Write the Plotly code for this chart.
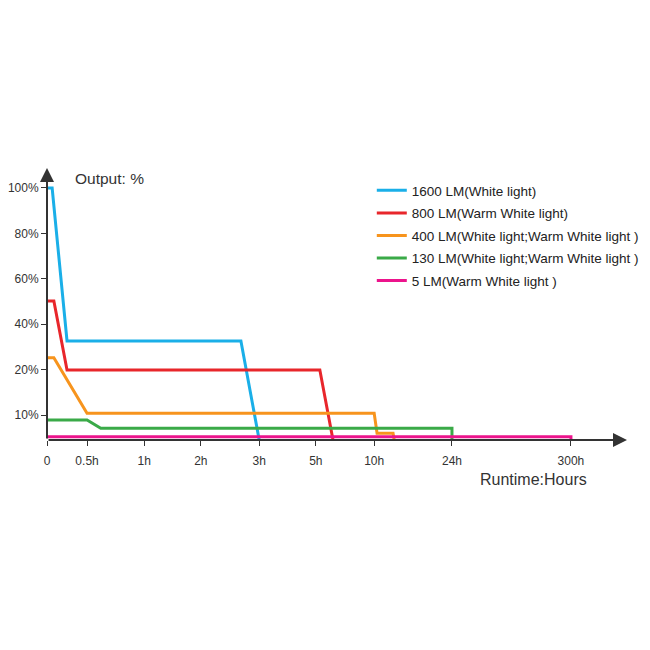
import plotly.graph_objects as go

# Axis tick positions (irregular runtime axis) and labels
x_tick_pos = [0, 0.70, 1.70, 2.69, 3.71, 4.70, 5.72, 7.08, 9.16]
x_tick_labels = ["0", "0.5h", "1h", "2h", "3h", "5h", "10h", "24h", "300h"]
y_tick_pos = [1, 2, 3, 4, 5, 6]
y_tick_labels = ["10%", "20%", "40%", "60%", "80%", "100%"]

series_names = [
    "1600 LM(White light)",
    "800 LM(Warm White light)",
    "400 LM(White light;Warm White light )",
    "130 LM(White light;Warm White light )",
    "5 LM(Warm White light )",
]
series_colors = ["#1AAFE8", "#E8262B", "#F7941D", "#3AAA48", "#EC148C"]

x_1600 = [0, 0.09, 0.35, 3.39, 3.71]
y_1600 = [6.0, 6.0, 2.63, 2.63, 0.45]
x_800 = [0, 0.12, 0.35, 4.77, 5.00]
y_800 = [3.51, 3.51, 1.99, 1.99, 0.45]
x_400 = [0, 0.12, 0.70, 5.72, 5.77, 6.05, 6.07]
y_400 = [2.26, 2.26, 1.04, 1.04, 0.60, 0.60, 0.45]
x_130 = [0, 0.70, 0.94, 7.08, 7.08]
y_130 = [0.89, 0.89, 0.71, 0.71, 0.45]
x_5 = [0, 9.16, 9.16]
y_5 = [0.52, 0.52, 0.45]

xs = [x_1600, x_800, x_400, x_130, x_5]
ys = [y_1600, y_800, y_400, y_130, y_5]

x_range = [0, 10.14]
y_range = [0.45, 6.44]

fig = go.Figure()
for i, (name, color, xv, yv) in enumerate(zip(series_names, series_colors, xs, ys)):
    fig.add_trace(go.Scatter(
        x=xv, y=yv, mode="lines", name=name, legendgroup=f"g{i}",
        line=dict(color=color, width=3), cliponaxis=False,
    ))

axis_color = "#333333"
font_family = "Liberation Sans, Arial, sans-serif"

fig.update_layout(
    width=650, height=650,
    margin=dict(l=47, r=23, t=168, b=210, autoexpand=False),
    plot_bgcolor="white", paper_bgcolor="white",
    font=dict(family=font_family, color="#333333"),
    showlegend=True,
    legend=dict(
        x=0.56, y=0.974, xanchor="left", yanchor="top",
        font=dict(size=13.5, color="#222222", family=font_family),
        tracegroupgap=2, bgcolor="rgba(0,0,0,0)",
    ),
    xaxis=dict(
        range=x_range, showgrid=False, zeroline=False, showline=False,
        tickmode="array", tickvals=x_tick_pos, ticktext=x_tick_labels,
        ticks="outside", ticklen=5, tickwidth=1, tickcolor=axis_color,
        tickfont=dict(size=12, color="#333333"), ticklabelstandoff=5,
        automargin=False,
    ),
    yaxis=dict(
        range=y_range, showgrid=False, zeroline=False, showline=False,
        tickmode="array", tickvals=y_tick_pos, ticktext=y_tick_labels,
        ticks="outside", ticklen=5, tickwidth=1, tickcolor=axis_color,
        tickfont=dict(size=12, color="#333333"), automargin=False,
    ),
)

# Axis lines with arrowheads
fig.add_annotation(x=x_range[1], y=y_range[0], ax=x_range[0], ay=y_range[0],
                   xref="x", yref="y", axref="x", ayref="y", text="",
                   showarrow=True, arrowhead=2, arrowsize=1.4, arrowwidth=2,
                   arrowcolor=axis_color)
fig.add_annotation(x=x_range[0], y=y_range[1], ax=x_range[0], ay=y_range[0],
                   xref="x", yref="y", axref="x", ayref="y", text="",
                   showarrow=True, arrowhead=2, arrowsize=1.4, arrowwidth=2,
                   arrowcolor=axis_color)

fig.add_annotation(x=0.045, y=1.0, xref="paper", yref="paper", text="Output: %",
                   showarrow=False, xanchor="left", yanchor="top",
                   font=dict(size=15.5, color="#333333", family=font_family))
fig.add_annotation(x=0.743, y=-0.105, xref="paper", yref="paper", text="Runtime:Hours",
                   showarrow=False, xanchor="left", yanchor="top",
                   font=dict(size=16, color="#333333", family=font_family))

fig.write_html("out.html")
